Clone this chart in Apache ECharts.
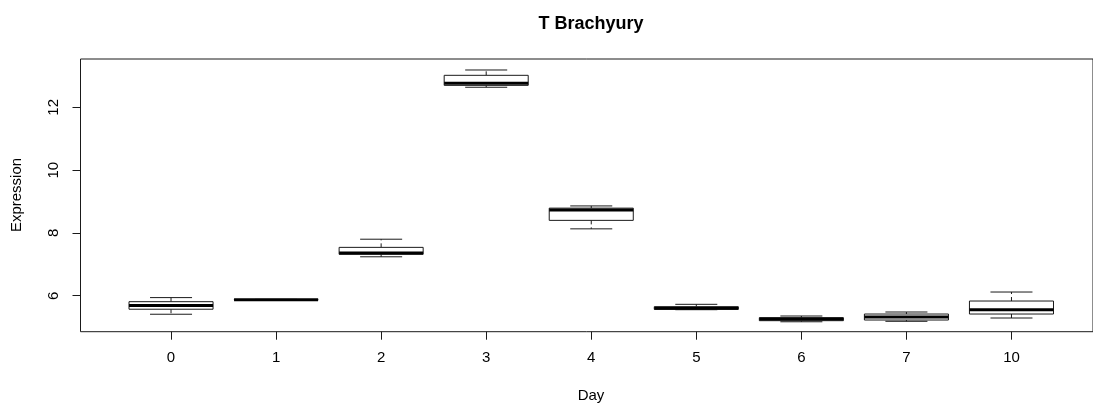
<!DOCTYPE html>
<html><head><meta charset="utf-8">
<script src="https://cdn.jsdelivr.net/npm/echarts@6/dist/echarts.min.js"></script>
<style>html,body{margin:0;padding:0;background:#fff}#c{width:1093px;height:405px}</style>
</head><body><div id="c"></div>
<script>
// Data (T Brachyury expression by day)
const days        = ['0', '1', '2', '3', '4', '5', '6', '7', '10'];
const lowWhisker  = [5.41, 5.866, 7.24, 12.64, 8.13, 5.555, 5.17, 5.185, 5.29];
const q1          = [5.57, 5.870, 7.32, 12.70, 8.40, 5.567, 5.205, 5.226, 5.417];
const median      = [5.69, 5.874, 7.36, 12.77, 8.73, 5.60, 5.258, 5.322, 5.554];
const q3          = [5.81, 5.878, 7.54, 13.02, 8.79, 5.65, 5.30, 5.417, 5.831];
const highWhisker = [5.94, 5.883, 7.80, 13.19, 8.86, 5.726, 5.354, 5.481, 6.118];
const yTicks      = [6, 8, 10, 12];

const FONT = 'Liberation Sans, Arial, sans-serif';
const INK = '#1a1a1a';
const chart = echarts.init(document.getElementById('c'), null, {renderer: 'canvas'});

const boxData = days.map((d, i) => [i, lowWhisker[i], q1[i], median[i], q3[i], highWhisker[i]]);

function renderBox(params, api) {
  const i = api.value(0);
  const band = api.size([1, 0])[0];
  const half = band * 0.4, cap = band * 0.2;
  const x = api.coord([i, api.value(3)])[0];
  const yLo = api.coord([i, api.value(1)])[1];
  const yQ1 = api.coord([i, api.value(2)])[1];
  const yMed = api.coord([i, api.value(3)])[1];
  const yQ3 = api.coord([i, api.value(4)])[1];
  const yHi = api.coord([i, api.value(5)])[1];
  const s = {stroke: INK, lineWidth: 1, fill: null};
  return {
    type: 'group',
    children: [
      {type: 'line', shape: {x1: x, y1: yQ3, x2: x, y2: yHi}, style: Object.assign({lineDash: [4, 3]}, s)},
      {type: 'line', shape: {x1: x, y1: yQ1, x2: x, y2: yLo}, style: Object.assign({lineDash: [4, 3]}, s)},
      {type: 'line', shape: {x1: x - cap, y1: yHi, x2: x + cap, y2: yHi}, style: s},
      {type: 'line', shape: {x1: x - cap, y1: yLo, x2: x + cap, y2: yLo}, style: s},
      {type: 'rect', shape: {x: x - half, y: yQ3, width: 2 * half, height: yQ1 - yQ3}, style: {stroke: INK, lineWidth: 1, fill: '#fff'}},
      {type: 'line', shape: {x1: x - half, y1: yMed, x2: x + half, y2: yMed}, style: {stroke: '#000', lineWidth: 3}}
    ]
  };
}

const option = {
  animation: false,
  backgroundColor: '#fff',
  grid: [
    {left: 80.5, top: 59, width: 1021, height: 272.7, show: true, borderColor: INK, borderWidth: 1, backgroundColor: 'transparent'},
    {left: 118.5, top: 59, width: 945.5, height: 272.7}
  ],
  xAxis: [
    {gridIndex: 0, type: 'value', show: false, min: 0, max: 1},
    {gridIndex: 1, type: 'category', data: days, boundaryGap: true,
     axisLine: {show: false},
     axisTick: {show: true, alignWithLabel: true, length: 8, lineStyle: {color: INK, width: 1}},
     axisLabel: {color: '#000', fontSize: 15, fontFamily: FONT, margin: 19}}
  ],
  yAxis: [
    {gridIndex: 0, type: 'value', show: false, min: 0, max: 1},
    {gridIndex: 1, type: 'value', min: 4.854, max: 13.54, offset: 38,
     splitLine: {show: false},
     axisLine: {show: false},
     axisTick: {show: true, length: 8, customValues: yTicks, lineStyle: {color: INK, width: 1}},
     axisLabel: {customValues: yTicks, rotate: 90, color: '#000', fontSize: 15, fontFamily: FONT, margin: 19}}
  ],
  graphic: [
    {type: 'text', x: 591, y: 24, style: {text: 'T Brachyury', fontSize: 18, fontWeight: 'bold', fontFamily: FONT, fill: '#000', align: 'center', verticalAlign: 'middle'}},
    {type: 'text', x: 591, y: 396, style: {text: 'Day', fontSize: 15, fontFamily: FONT, fill: '#000', align: 'center', verticalAlign: 'middle'}},
    {type: 'text', x: 17, y: 195, rotation: Math.PI / 2, style: {text: 'Expression', fontSize: 15, fontFamily: FONT, fill: '#000', align: 'center', verticalAlign: 'middle'}}
  ],
  series: [{
    type: 'custom',
    xAxisIndex: 1, yAxisIndex: 1,
    renderItem: renderBox,
    encode: {x: 0, y: [1, 2, 3, 4, 5]},
    data: boxData
  }]
};
chart.setOption(option);
</script>
</body></html>
